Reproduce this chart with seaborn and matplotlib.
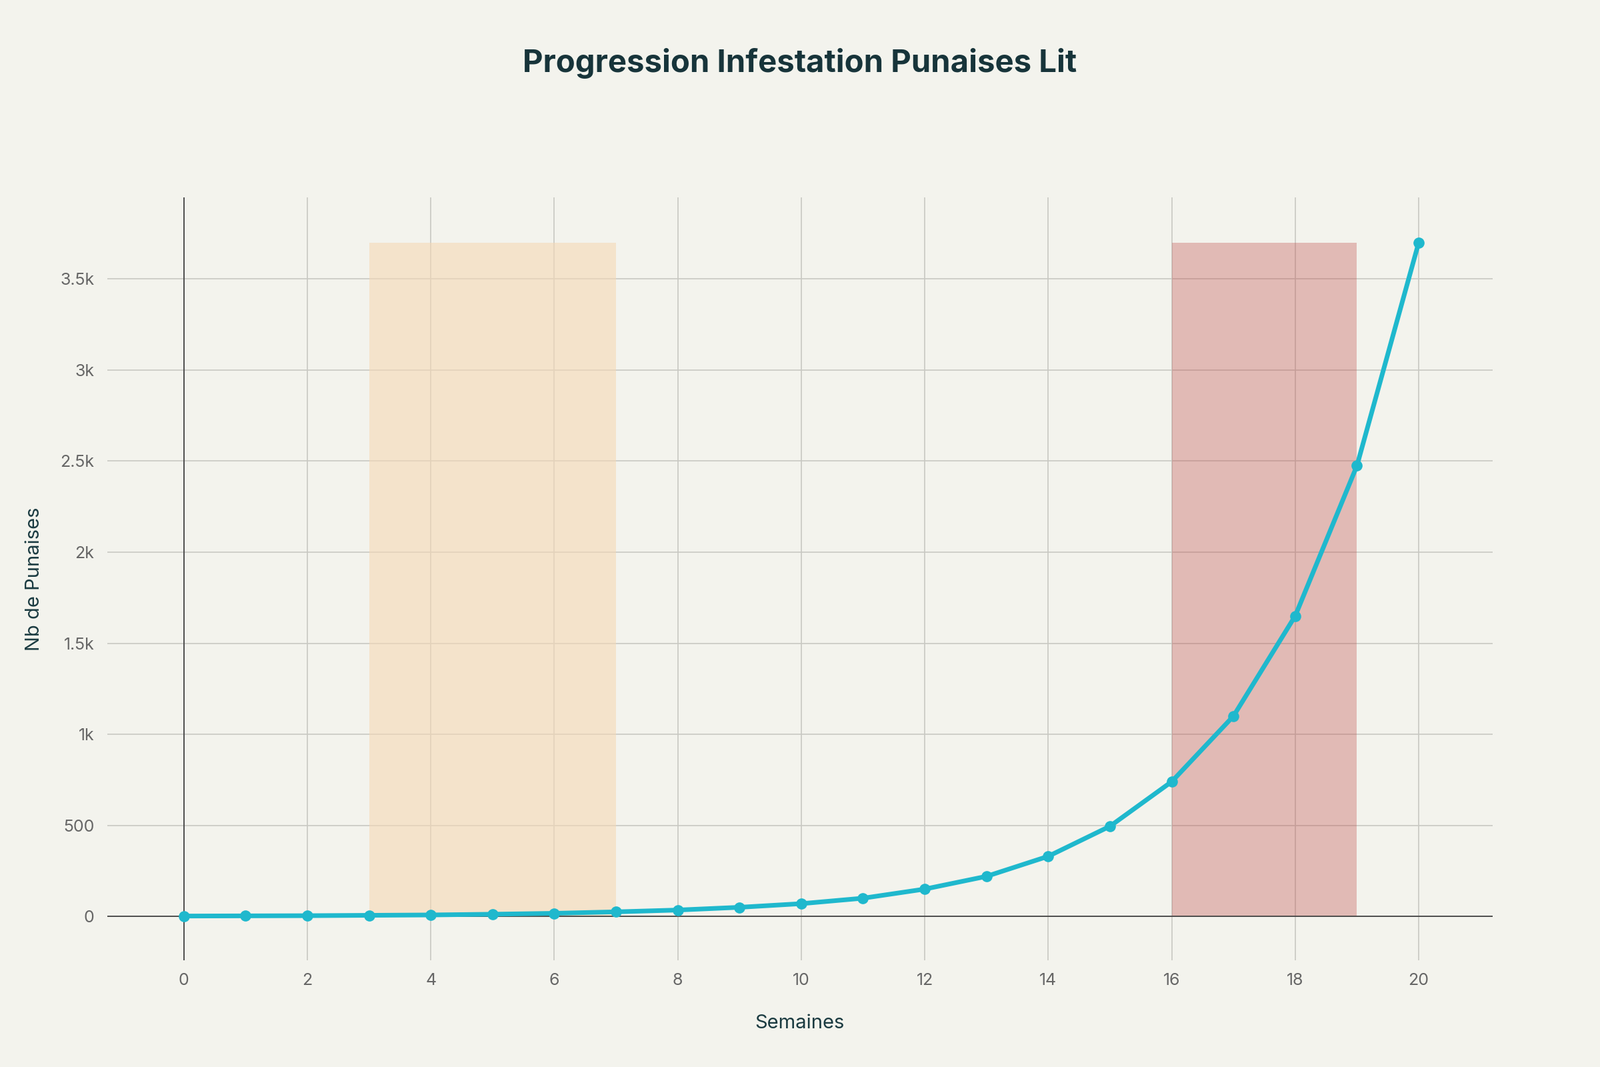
import matplotlib
matplotlib.use("Agg")
import matplotlib.pyplot as plt
import seaborn as sns
import pandas as pd
from matplotlib.ticker import FuncFormatter

weeks = list(range(21))
counts = [2, 3, 4, 6, 8, 12, 17, 25, 35, 50, 70, 100, 150, 220, 330, 495, 740, 1100, 1650, 2475, 3700]
zones = [(3, 7, "#f5d9b5", 0.6), (16, 19, "#c0504d", 0.35)]
zone_top = 3700

bg = "#f3f3ed"
sns.set_theme(style="white", rc={"font.family": "Inter"})
fig = plt.figure(figsize=(24, 16), dpi=100, facecolor=bg)
ax = fig.add_axes([0.067, 0.10, 0.866, 0.715], facecolor=bg)

for x0, x1, c, a in zones:
    ax.fill_between([x0, x1], 0, zone_top, color=c, alpha=a, linewidth=0, zorder=1)

df = pd.DataFrame({"Semaines": weeks, "Nb": counts})
sns.lineplot(data=df, x="Semaines", y="Nb", ax=ax, color="#1fb8cd", linewidth=5,
             marker="o", markersize=12, markeredgewidth=0, zorder=3)

ax.set_xlim(-1.24, 21.2)
ax.set_ylim(-241, 3948)
ax.set_xticks(range(0, 21, 2))
ax.set_yticks(range(0, 3501, 500))
ax.yaxis.set_major_formatter(FuncFormatter(lambda v, p: "0" if v == 0 else (f"{v/1000:g}k" if v >= 1000 else f"{int(v)}")))
ax.grid(True, color="#c8c8c2", linewidth=1.2, zorder=0)
ax.set_axisbelow(True)
ax.axhline(0, color="#444444", linewidth=1.3, zorder=2)
ax.axvline(0, color="#444444", linewidth=1.3, zorder=2)
for s in ax.spines.values():
    s.set_visible(False)
ax.tick_params(labelsize=18, colors="#666666", length=0, pad=14)
ax.set_xlabel("Semaines", fontsize=21, color="#1a3a40", labelpad=28)
ax.set_ylabel("Nb de Punaises", fontsize=21, color="#1a3a40", labelpad=18)
fig.suptitle("Progression Infestation Punaises Lit", fontsize=34, fontweight="bold",
             color="#17343a", y=0.955)
fig.savefig("out.png", dpi=100, facecolor=bg)
